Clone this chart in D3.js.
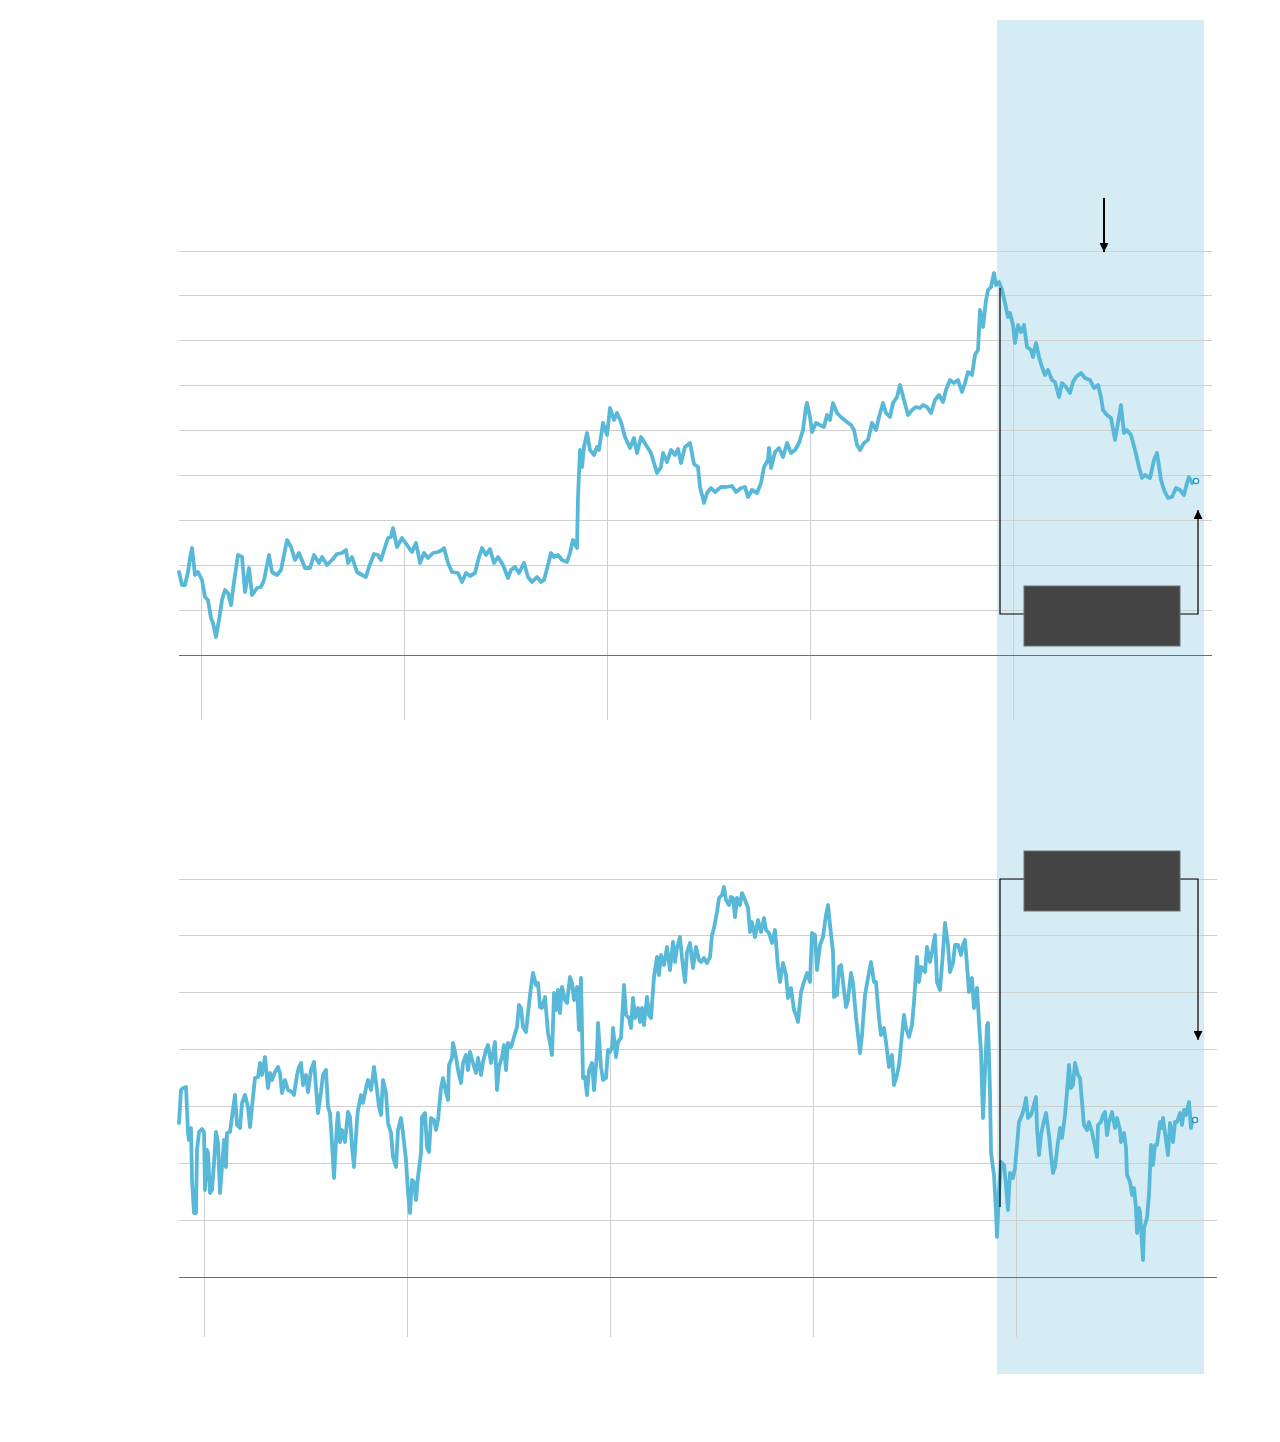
<!DOCTYPE html>
<html>
<head>
<meta charset="utf-8">
<script src="https://cdn.jsdelivr.net/npm/d3@7"></script>
<style>
  body { margin: 0; background: #fff; }
  svg { display: block; }
</style>
</head>
<body>
<svg></svg>
<script>
var width = 1280;
var height = 1442;

// readings: [session, level]
var upperSeries = [
  [0,83],[3,70],[6,70],[9,83],[11,97],[13,107],[16,80],[19,83],[23,75],[26,58],[29,55],[32,37],[34,32],[37,18],
  [40,35],[43,55],[46,65],[49,62],[52,50],[55,73],[59,100],[63,98],[66,63],[70,87],[73,60],[78,67],[82,68],
  [85,75],[90,100],[93,83],[98,80],[102,85],[108,115],[112,108],[116,95],[120,102],[126,87],[131,87],[135,100],
  [140,92],[143,98],[148,90],[153,95],[158,101],[163,102],[167,105],[169,92],[173,98],[178,83],[183,80],[187,78],
  [190,88],[195,101],[199,100],[202,95],[206,108],[209,117],[212,118],[214,127],[218,108],[223,117],[228,110],
  [233,103],[237,112],[241,92],[245,102],[249,97],[254,102],[259,103],[263,105],[265,107],[269,92],[273,83],
  [279,82],[283,73],[287,82],[291,79],[296,82],[300,98],[303,107],[307,100],[311,106],[315,92],[319,98],[324,90],
  [329,77],[332,85],[336,88],[340,82],[345,92],[349,78],[353,73],[358,78],[362,73],[365,75],[369,90],[372,102],
  [375,98],[379,100],[383,95],[388,93],[391,102],[394,115],[398,107],[399,158],[401,205],[403,188],[405,208],
  [408,222],[411,205],[415,200],[418,208],[420,205],[424,232],[428,220],[431,247],[435,235],[438,242],[442,233],
  [446,218],[451,207],[455,217],[458,202],[462,218],[467,210],[472,202],[475,192],[478,182],[482,188],[484,202],
  [488,193],[492,205],[496,200],[499,206],[502,192],[506,208],[511,212],[515,191],[519,188],[521,168],[525,152],
  [528,162],[532,167],[536,163],[542,168],[547,168],[553,169],[557,163],[562,167],[566,168],[569,158],[573,165],
  [578,162],[582,172],[585,188],[589,195],[590,207],[592,187],[596,203],[600,207],[604,198],[608,212],[612,202],
  [616,205],[620,212],[624,225],[627,248],[628,252],[631,238],[633,223],[637,232],[641,230],[645,228],[648,240],
  [651,235],[654,252],[658,242],[663,237],[668,233],[672,230],[675,225],[678,210],[681,205],[685,212],[689,215],
  [693,232],[697,225],[700,238],[704,252],[707,242],[711,238],[714,252],[718,258],[721,270],[725,255],[729,240],
  [733,245],[737,248],[741,247],[744,250],[748,248],[752,242],[756,255],[760,260],[764,253],[767,265],[771,275],
  [775,272],[779,275],[783,263],[786,272],[789,283],[793,280],[796,300],[799,305],[801,345],[804,328],[807,355],
  [809,365],[812,368],[815,382],[817,370],[820,373],[823,365],[826,352],[829,338],[831,342],[834,330],[836,312],
  [839,330],[842,323],[845,330],[848,308],[852,305],[854,298],[857,312],[860,298],[863,288],[866,280],[869,285],
  [873,275],[876,273],[880,258],[883,272],[887,268],[891,262],[894,273],[897,278],[902,282],[906,277],[911,275],
  [915,267],[919,270],[922,258],[924,245],[928,240],[932,237],[936,215],[940,238],[942,250],[945,222],[948,225],
  [952,220],[956,205],[960,188],[963,177],[966,180],[971,177],[975,195],[978,202],[982,175],[985,165],[989,157],
  [993,158],[997,167],[1001,165],[1005,160],[1008,172],[1010,178],[1013,172],[1017,174]
];

var lowerSeries = [
  [-3,154],[-1,187],[1,189],[4,190],[6,144],[7,137],[9,149],[10,97],[12,64],[14,64],[15,127],[17,145],[20,148],
  [22,145],[23,87],[25,127],[26,124],[28,84],[30,87],[32,114],[34,145],[36,135],[38,84],[40,110],[42,137],[44,110],
  [45,144],[48,145],[50,160],[53,182],[55,152],[58,149],[60,174],[63,182],[66,170],[68,150],[70,170],[73,199],
  [76,200],[78,214],[80,202],[83,220],[86,189],[88,204],[90,197],[93,205],[96,210],[98,204],[100,184],[103,197],
  [106,187],[110,185],[112,182],[115,202],[117,210],[119,214],[121,192],[124,202],[126,185],[129,207],[132,215],
  [136,164],[139,185],[141,202],[144,207],[146,170],[148,164],[150,134],[152,99],[155,154],[156,164],[158,135],
  [160,147],[163,135],[166,165],[168,160],[170,130],[172,110],[175,157],[176,167],[179,182],[181,174],[184,189],
  [186,197],[189,187],[192,210],[195,187],[197,170],[199,162],[201,197],[204,184],[206,154],[209,144],[211,120],
  [214,110],[216,147],[219,159],[221,144],[224,117],[226,84],[228,64],[230,97],[232,95],[234,77],[236,100],
  [239,124],[240,160],[243,164],[245,130],[247,125],[249,159],[252,157],[254,147],[256,157],[259,189],[261,199],
  [264,185],[266,177],[267,212],[270,219],[271,234],[274,220],[276,207],[279,194],[281,214],[284,222],[286,207],
  [288,225],[291,214],[294,204],[296,219],[299,202],[301,215],[304,227],[306,232],[309,214],[311,224],[313,235],
  [315,187],[317,210],[320,220],[322,232],[324,207],[326,234],[329,230],[332,240],[335,250],[337,272],[339,269],
  [341,250],[344,245],[346,264],[349,290],[351,304],[354,292],[356,294],[358,270],[360,269],[363,280],[366,244],
  [368,234],[370,222],[372,284],[374,267],[376,287],[378,264],[380,290],[383,277],[385,274],[388,300],[390,294],
  [392,277],[395,290],[397,247],[399,299],[401,199],[403,200],[405,182],[407,207],[410,214],[412,187],[415,224],
  [416,254],[419,210],[421,197],[424,199],[426,227],[428,225],[430,230],[431,249],[434,220],[436,235],[439,239],
  [442,292],[444,262],[447,259],[449,249],[451,279],[453,259],[456,269],[458,255],[460,269],[462,252],[465,280],
  [467,262],[469,259],[472,300],[475,320],[477,302],[479,322],[482,312],[485,330],[488,307],[491,335],[493,315],
  [495,329],[498,340],[500,319],[503,295],[505,325],[508,334],[511,309],[514,330],[517,317],[519,315],[522,319],
  [525,314],[528,320],[530,342],[532,349],[535,365],[537,379],[540,382],[542,390],[544,377],[547,372],[549,380],
  [551,379],[553,360],[555,379],[558,372],[560,384],[563,377],[566,369],[568,345],[570,355],[573,340],[576,357],
  [579,345],[582,359],[584,347],[587,344],[590,334],[593,347],[596,310],[598,295],[601,314],[604,302],[606,279],
  [609,289],[612,267],[614,262],[616,255],[619,285],[622,295],[625,304],[628,295],[630,344],[633,342],[635,307],
  [638,332],[641,340],[644,362],[646,372],[648,352],[651,325],[652,280],[655,282],[657,310],[659,312],[661,295],
  [664,270],[666,277],[669,304],[671,294],[674,260],[676,242],[678,224],[680,242],[683,282],[686,299],[689,315],
  [692,295],[694,295],[697,259],[699,242],[702,249],[704,235],[707,210],[710,222],[712,192],[715,202],[717,212],
  [720,242],[722,262],[724,249],[727,240],[730,252],[732,275],[735,320],[737,295],[739,310],[743,305],[745,330],
  [748,315],[750,325],[753,342],[755,295],[758,287],[761,325],[763,354],[766,332],[768,305],[771,314],[773,332],
  [776,332],[779,322],[781,332],[783,337],[785,312],[787,285],[790,299],[792,269],[795,289],[797,255],[799,225],
  [801,159],[803,205],[805,252],[806,254],[808,185],[809,125],[811,109],[812,102],[814,65],[815,40],[817,85],
  [819,115],[822,112],[824,92],[826,67],[828,104],[831,99],[833,109],[835,132],[837,155],[840,162],[842,169],
  [844,179],[846,159],[849,162],[851,169],[854,180],[855,149],[857,122],[859,142],[861,152],[864,164],[867,142],
  [869,122],[871,104],[873,110],[876,135],[878,149],[880,139],[883,162],[885,185],[887,212],[889,189],[891,192],
  [893,214],[896,202],[898,199],[900,175],[902,152],[905,147],[907,155],[910,145],[912,135],[915,120],[916,152],
  [919,155],[921,162],[923,165],[925,142],[927,155],[930,165],[933,149],[935,159],[938,147],[939,135],[942,144],
  [944,129],[945,102],[948,95],[950,82],[952,89],[954,69],[955,44],[957,69],[958,65],[961,17],[962,49],[965,59],
  [967,82],[969,132],[971,112],[973,132],[975,132],[978,155],[980,149],[981,159],[984,137],[986,122],[988,154],
  [991,135],[993,155],[995,155],[998,164],[1000,152],[1002,167],[1004,162],[1007,175],[1009,149],[1010,155],
  [1013,157]
];

var yearTicks = [22, 225, 428, 631, 834];
var upperMax = 404, upperSteps = 9;
var lowerMax = 398, lowerSteps = 7;
var highlight = [818, 1025];

var lineColor = "#58b8d8";
var gridColor = "#cfcfcf";
var bandColor = "#d6ecf4";

var svg = d3.select("svg")
    .attr("width", width)
    .attr("height", height);

svg.append("rect")
    .attr("width", width)
    .attr("height", height)
    .attr("fill", "#fff");

var defs = svg.append("defs");
defs.append("marker")
    .attr("id", "head")
    .attr("viewBox", "0 0 10 10")
    .attr("refX", 10)
    .attr("refY", 5)
    .attr("markerWidth", 9)
    .attr("markerHeight", 9)
    .attr("markerUnits", "userSpaceOnUse")
    .attr("orient", "auto")
  .append("path")
    .attr("d", "M0,0L10,5L0,10Z")
    .attr("fill", "#000");

var panels = [
  {
    series: upperSeries,
    x: d3.scaleLinear().domain([0, 1017]).range([179, 1196]),
    y: d3.scaleLinear().domain([0, upperMax]).range([655, 251]),
    steps: upperSteps,
    gridTo: 1033,
    dropTo: -65
  },
  {
    series: lowerSeries,
    x: d3.scaleLinear().domain([0, 1017]).range([182, 1199]),
    y: d3.scaleLinear().domain([0, lowerMax]).range([1277, 879]),
    steps: lowerSteps,
    gridTo: 1035,
    dropTo: -60
  }
];

// shaded period behind both panels
svg.append("rect")
    .attr("x", panels[0].x(highlight[0]))
    .attr("y", 20)
    .attr("width", panels[0].x(highlight[1]) - panels[0].x(highlight[0]))
    .attr("height", 1354)
    .attr("fill", bandColor);

var bisect = d3.bisector(d => d[0]).left;
function valueAt(series, t) {
  var i = bisect(series, t);
  var a = series[Math.max(0, i - 1)], b = series[Math.min(series.length - 1, i)];
  if (b[0] === a[0]) return a[1];
  return a[1] + (b[1] - a[1]) * (t - a[0]) / (b[0] - a[0]);
}

panels.forEach(function(p) {
  var g = svg.append("g");
  var max = p.y.domain()[1];
  var levels = d3.range(1, p.steps + 1).map(i => i * max / p.steps);
  var x0 = p.series[0][0];

  g.selectAll(".grid")
    .data(levels)
    .enter()
    .append("line")
      .attr("x1", p.x(x0))
      .attr("x2", p.x(p.gridTo))
      .attr("y1", d => p.y(d))
      .attr("y2", d => p.y(d))
      .attr("stroke", gridColor)
      .attr("stroke-width", 1)
      .attr("shape-rendering", "crispEdges");

  // year drop lines, from the line down past the baseline
  g.selectAll(".drop")
    .data(yearTicks)
    .enter()
    .append("line")
      .attr("x1", d => p.x(d))
      .attr("x2", d => p.x(d))
      .attr("y1", d => p.y(valueAt(p.series, d)))
      .attr("y2", p.y(p.dropTo))
      .attr("stroke", gridColor)
      .attr("stroke-width", 1)
      .attr("shape-rendering", "crispEdges");

  g.append("line")
      .attr("x1", p.x(x0))
      .attr("x2", p.x(p.gridTo))
      .attr("y1", p.y(0))
      .attr("y2", p.y(0))
      .attr("stroke", "#6e6e6e")
      .attr("stroke-width", 1)
      .attr("shape-rendering", "crispEdges");

  var line = d3.line()
      .x(d => p.x(d[0]))
      .y(d => p.y(d[1]));

  g.append("path")
      .datum(p.series)
      .attr("d", line)
      .attr("fill", "none")
      .attr("stroke", lineColor)
      .attr("stroke-width", 3.8)
      .attr("stroke-linejoin", "round")
      .attr("stroke-linecap", "round");

  var last = p.series[p.series.length - 1];
  g.append("circle")
      .attr("cx", p.x(last[0]))
      .attr("cy", p.y(last[1]))
      .attr("r", 2.6)
      .attr("fill", "#fff")
      .attr("stroke", "#1d97bd")
      .attr("stroke-width", 1.4);

  p.g = g;
});

// annotations, upper panel
var up = panels[0];
up.g.append("line")
    .attr("x1", up.x(925)).attr("x2", up.x(925))
    .attr("y1", up.y(457)).attr("y2", up.y(403))
    .attr("stroke", "#000")
    .attr("stroke-width", 2)
    .attr("marker-end", "url(#head)");

up.g.append("path")
    .attr("d", "M" + up.x(821) + "," + up.y(367) +
               "V" + up.y(41) + "H" + up.x(1019) + "V" + up.y(145))
    .attr("fill", "none")
    .attr("stroke", "#000")
    .attr("stroke-width", 1.2)
    .attr("marker-end", "url(#head)");

up.g.append("rect")
    .attr("x", up.x(845))
    .attr("y", up.y(69))
    .attr("width", up.x(1001) - up.x(845))
    .attr("height", up.y(9) - up.y(69))
    .attr("fill", "#444")
    .attr("stroke", "#6a6e72")
    .attr("stroke-width", 1);

// annotations, lower panel
var lo = panels[1];
lo.g.append("path")
    .attr("d", "M" + lo.x(818) + "," + lo.y(70) +
               "V" + lo.y(398) + "H" + lo.x(1016) + "V" + lo.y(237))
    .attr("fill", "none")
    .attr("stroke", "#000")
    .attr("stroke-width", 1.2)
    .attr("marker-end", "url(#head)");

lo.g.append("rect")
    .attr("x", lo.x(842))
    .attr("y", lo.y(426))
    .attr("width", lo.x(998) - lo.x(842))
    .attr("height", lo.y(366) - lo.y(426))
    .attr("fill", "#444")
    .attr("stroke", "#6a6e72")
    .attr("stroke-width", 1);
</script>
</body>
</html>
